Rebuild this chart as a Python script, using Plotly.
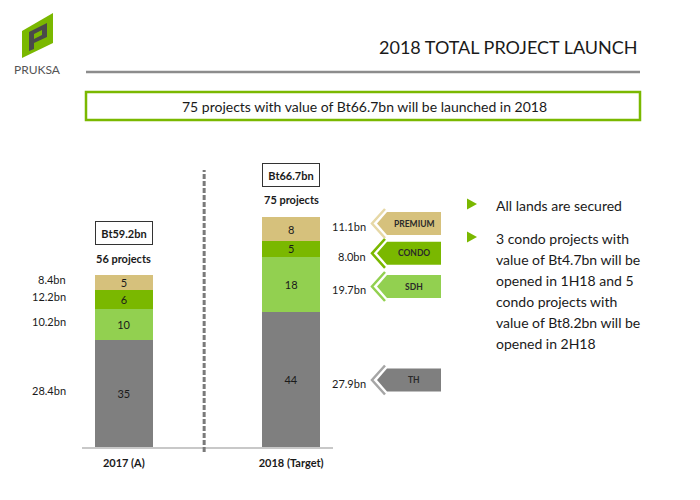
import plotly.graph_objects as go

# data
years = ["2017 (A)", "2018 (Target)"]
segments = ["TH", "SDH", "CONDO", "PREMIUM"]
th_projects = [35, 44]
sdh_projects = [10, 18]
condo_projects = [6, 5]
premium_projects = [5, 8]
total_value = ["Bt59.2bn", "Bt66.7bn"]
value_2017 = ["28.4bn", "10.2bn", "12.2bn", "8.4bn"]   # TH, SDH, CONDO, PREMIUM
value_2018 = ["27.9bn", "19.7bn", "8.0bn", "11.1bn"]
bullets = [
    ["All lands are secured"],
    ["3 condo projects with", "value of Bt4.7bn will be", "opened in 1H18 and 5",
     "condo projects with", "value of Bt8.2bn will be", "opened in 2H18"],
]

colors = {"TH": "#7f7f7f", "SDH": "#92d050", "CONDO": "#7ab800", "PREMIUM": "#d6c17c"}
edge = {"TH": "#a6a6a6", "SDH": "#92d050", "CONDO": "#7ab800", "PREMIUM": "#e6d8a6"}
FONT = "Lato"
OFF = 8  # page body margin
W, H = 700 - OFF, 500 - OFF


def px(x):
    return (x - OFF) / W


def py(y):
    return 1 - (y - OFF) / H


def txt(text, x, y, size, color="#1a1a1a", xa="center", **kw):
    return dict(text=text, x=px(x), y=py(y), xref="paper", yref="paper", xanchor=xa, yanchor="middle",
                showarrow=False, font=dict(family=FONT, size=size, color=color), **kw)


series = [th_projects, sdh_projects, condo_projects, premium_projects]
totals = [sum(v) for v in zip(*series)]

fig = go.Figure()
for name, vals in zip(segments, series):
    fig.add_trace(go.Bar(
        x=years, y=vals, name=name, width=0.35,
        marker=dict(color=colors[name], line=dict(width=0)),
        text=vals, textposition="inside", insidetextanchor="middle", textangle=0,
        textfont=dict(family=FONT, size=11, color="#1a1a1a"),
        hoverinfo="skip",
    ))

shapes = []
ann = []

# header
shapes.append(dict(type="path", xref="paper", yref="paper",
                   path="M%f,%f L%f,%f L%f,%f L%f,%f Z" % (px(22), py(31), px(53), py(13), px(53), py(43), px(22), py(58)),
                   fillcolor="#7ab800", line=dict(width=0)))
shapes.append(dict(type="path", xref="paper", yref="paper",
                   path="M%f,%f L%f,%f L%f,%f L%f,%f L%f,%f L%f,%f Z" % (
                       px(29), py(51), px(29), py(32), px(47), py(23), px(47), py(37),
                       px(34), py(43), px(34), py(49)),
                   fillcolor="#4a4a4a", line=dict(width=0)))
shapes.append(dict(type="path", xref="paper", yref="paper",
                   path="M%f,%f L%f,%f L%f,%f L%f,%f Z" % (px(34), py(34), px(42), py(30), px(42), py(35), px(34), py(39)),
                   fillcolor="#7ab800", line=dict(width=0)))
ann.append(txt("PRUKSA", 37, 70, 12, "#555555"))
ann.append(txt("2018 TOTAL PROJECT LAUNCH", 640, 47, 18, xa="right"))
shapes.append(dict(type="line", xref="paper", yref="paper", x0=px(86), x1=px(640), y0=py(72), y1=py(72),
                   line=dict(color="#8c8c8c", width=2.5)))
shapes.append(dict(type="rect", xref="paper", yref="paper", x0=px(86), x1=px(640), y0=py(92), y1=py(120),
                   line=dict(color="#7ab800", width=2.5), fillcolor="white"))
ann.append(txt("75 projects with value of Bt66.7bn will be launched in 2018", 364, 106, 14))

# divider between the two years
shapes.append(dict(type="line", xref="x", yref="paper", x0=0.48, x1=0.48, y0=py(452), y1=py(170),
                   line=dict(color="#7a7a7a", width=3, dash="5px,2px")))

# totals above the bars
for yr, tot, val in zip(years, totals, total_value):
    ann.append(dict(text="<b>%s</b>" % val, x=yr, y=tot, yshift=42, xanchor="center", yanchor="middle",
                    showarrow=False, bordercolor="#333333", borderwidth=1, width=54, height=20,
                    font=dict(family=FONT, size=11, color="#1a1a1a")))
    ann.append(dict(text="<b>%d projects</b>" % tot, x=yr, y=tot, yshift=17, xanchor="center", yanchor="middle",
                    showarrow=False, font=dict(family=FONT, size=11, color="#1a1a1a")))

# segment values (bn) beside the 2017 bar
base = 0
for vals, lab in zip(series, value_2017):
    mid = base + vals[0] / 2
    base += vals[0]
    ann.append(dict(text=lab, x=px(68), y=mid, xref="paper", yref="y", yshift=3, xanchor="right",
                    yanchor="middle", showarrow=False, font=dict(family=FONT, size=11, color="#1a1a1a")))

# legend arrows next to the 2018 bar (pixel rows, TH..PREMIUM)
legend_rows = [380, 286.5, 253.3, 223.5]
for name, lab, row in zip(segments, value_2018, legend_rows):
    ann.append(txt(lab, 368, row + 3, 11, xa="right"))
    h = 11.5
    shapes.append(dict(type="path", xref="paper", yref="paper",
                       path="M%f,%f L%f,%f L%f,%f L%f,%f L%f,%f Z" % (
                           px(441), py(row - h), px(387), py(row - h), px(377), py(row),
                           px(387), py(row + h), px(441), py(row + h)),
                       fillcolor=colors[name], line=dict(width=0)))
    shapes.append(dict(type="path", xref="paper", yref="paper",
                       path="M%f,%f L%f,%f L%f,%f" % (px(385), py(row - h - 3), px(372), py(row), px(385), py(row + h + 3)),
                       line=dict(color=edge[name], width=2.5)))
    ann.append(txt("<b>%s</b>" % name, 414, row, 8.5, "#2a2a2a"))

# bullet points
rows = [[205], [238, 259.5, 280.5, 301, 322, 343]]
for lines, ys in zip(bullets, rows):
    t = ys[0] - 1
    shapes.append(dict(type="path", xref="paper", yref="paper",
                       path="M%f,%f L%f,%f L%f,%f Z" % (px(467), py(t - 5.5), px(477), py(t), px(467), py(t + 5.5)),
                       fillcolor="#7ab800", line=dict(width=0)))
    for line, y in zip(lines, ys):
        ann.append(txt(line, 494, y, 14, xa="left"))

fig.update_layout(
    width=W, height=H, margin=dict(l=0, r=0, t=0, b=0),
    paper_bgcolor="white", plot_bgcolor="white",
    barmode="stack", showlegend=False,
    uniformtext=dict(minsize=11, mode="show"),
    font=dict(family=FONT),
    xaxis=dict(domain=[px(82), px(333)], range=[-0.25, 1.25], showline=True, linecolor="#c8c8c8",
               linewidth=2, showgrid=False, zeroline=False, ticks="outside", ticklen=5,
               tickcolor="rgba(0,0,0,0)", tickfont=dict(family=FONT, size=11, color="#1a1a1a"),
               ticktext=["<b>%s</b>" % y for y in years], tickvals=years),
    yaxis=dict(domain=[py(447), py(447 - 90 * 3.07)], range=[0, 90], visible=False),
    shapes=shapes, annotations=ann,
)

fig.write_html("out.html")
